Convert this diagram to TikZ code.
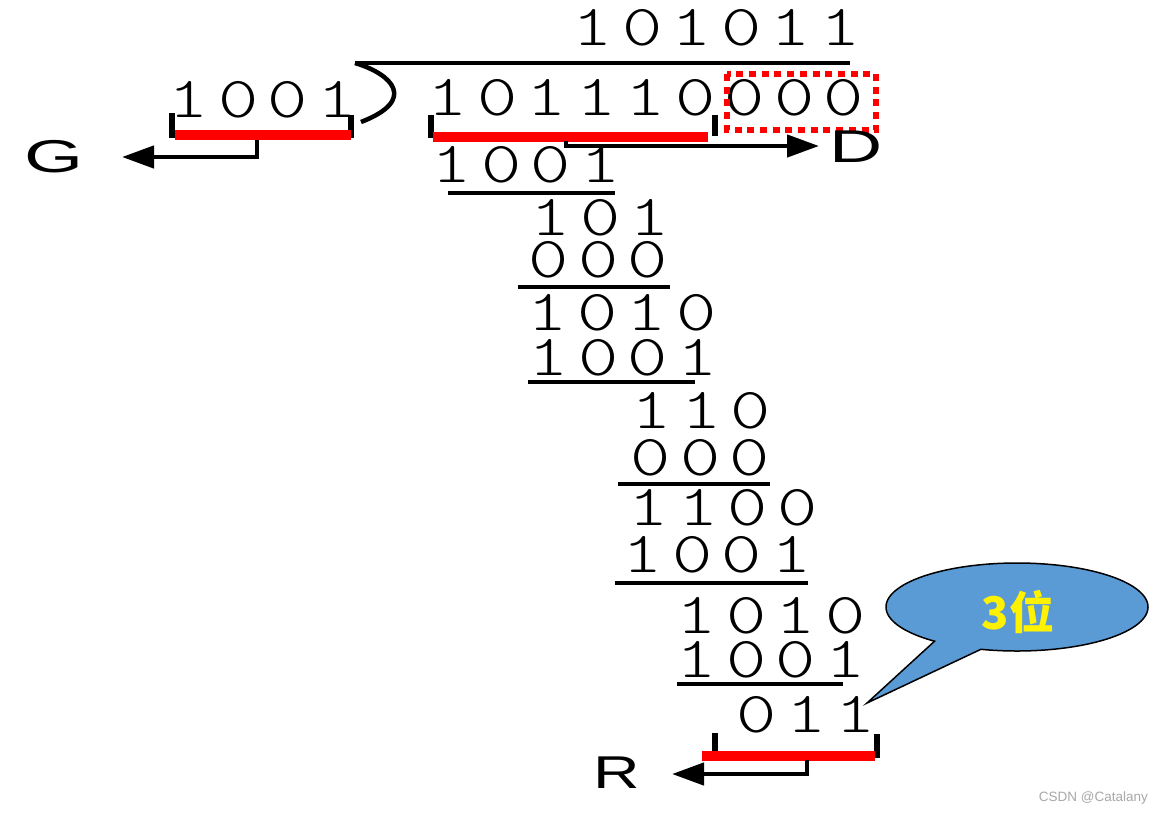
\documentclass[tikz,border=0pt]{standalone}
\usepackage{fontspec}
\usetikzlibrary{arrows.meta}
\newfontfamily\letfont{Liberation Sans}
\newfontfamily\cjk{Noto Sans CJK SC}
\newfontfamily\digfont{lmmonolt10-regular.otf}
\definecolor{calloutblue}{HTML}{5B9BD5}
\definecolor{wmgray}{HTML}{A8A8A8}
\tikzset{
  dig/.style={font=\digfont\fontsize{58}{58}\selectfont, inner sep=0pt, anchor=base},
  letter/.style={font=\letfont\fontsize{46}{46}\selectfont, inner sep=0pt, anchor=base},
  rule/.style={line width=4pt},
  tick/.style={line width=6pt},
  redbar/.style={line width=10pt, red},
  feed/.style={line width=4.5pt, -{Triangle[length=32pt,width=22pt]}},
}
\newcommand\digrow[4]{%
  \foreach \d [count=\i] in {#4} {\node[dig] (#1\i) at ({#2+49.5*(\i-1)},#3) {\scalebox{1.32}[1]{\d}};}}
\begin{document}
\begin{tikzpicture}[x=1pt,y=-1pt]
\useasboundingbox[fill=white] (0,0) rectangle (1162,812);
% quotient and division sign
\digrow{q}{593}{45}{1,0,1,0,1,1}
\coordinate (barL) at (355,63);
\coordinate (barR) at (850,63);
\coordinate (hookE) at (361,122);
\draw[line width=3.5pt] (barR) -- (barL);
\draw[line width=4.5pt] (barL) .. controls (392,74) and (418,100) .. (hookE);
% divisor
\digrow{g}{189}{117}{1,0,0,1}
% dividend
\digrow{m}{448}{115}{1,0,1,1,1,0,0,0,0}
% steps
\digrow{ra}{452}{182}{1,0,0,1}
\draw[rule] (448,193) -- (615,193);
\digrow{rb}{551}{235}{1,0,1}
\digrow{rc}{549}{277}{0,0,0}
\draw[rule] (518,287) -- (670,287);
\digrow{rd}{548}{330}{1,0,1,0}
\digrow{re}{549}{375}{1,0,0,1}
\draw[rule] (528,382) -- (695,382);
\digrow{rf}{652}{428}{1,1,0}
\digrow{rg}{651}{475}{0,0,0}
\draw[rule] (618,484) -- (770,484);
\digrow{rh}{649}{525}{1,1,0,0}
\digrow{ri}{643}{572}{1,0,0,1}
\draw[rule] (615,583) -- (808,583);
\digrow{rj}{697}{633}{1,0,1,0}
\digrow{rk}{697}{677}{1,0,0,1}
\draw[rule] (677,684) -- (843,684);
\digrow{rl}{757}{732}{0,1,1}
% dotted box round the appended zeros
\draw[red, line width=5.5pt, dash pattern=on 7pt off 5.7pt] (727,74) rectangle (876,130);
% letters
\node[letter] (G) at (54,172) {\scalebox{1.65}[1]{G}};
\node[letter] (D) at (856,162) {\scalebox{1.6}[1]{D}};
\node[letter] (R) at (617,788) {\scalebox{1.4}[1]{R}};
% G bracket
\draw[tick] (171.5,113) -- (171.5,138);
\draw[tick] (351,115) -- (351,138);
\coordinate (gbarL) at (175,135);
\coordinate (gbarR) at (351,135);
\draw[redbar] (gbarL) -- (gbarR);
\coordinate (gfoot) at (257,140);
\coordinate (gtip) at (122,157);
\draw[feed] (gfoot) |- (gtip);
% D bracket
\draw[tick] (430.5,115) -- (430.5,138);
\draw[tick] (715,115) -- (715,136);
\coordinate (dbarL) at (433,137);
\coordinate (dbarR) at (708,137);
\draw[redbar] (dbarL) -- (dbarR);
\coordinate (dfoot) at (566,141);
\coordinate (dtip) at (819,146);
\draw[feed] (dfoot) |- (dtip);
% R bracket
\draw[tick] (715,733) -- (715,753);
\draw[tick] (876.5,734) -- (876.5,758);
\coordinate (rbarL) at (702,756);
\coordinate (rbarR) at (875,756);
\draw[redbar] (rbarL) -- (rbarR);
\coordinate (rfoot) at (807,760);
\coordinate (rtip) at (672,774);
\draw[feed] (rfoot) |- (rtip);
% callout
\draw[fill=calloutblue, line width=1.5pt, line join=miter]
  (867,703) -- plot[domain=129:466, samples=160] ({1017+131*cos(\x)},{607+44*sin(\x)}) -- cycle;
\node[inner sep=0pt, text=yellow, font=\cjk\bfseries\fontsize{45}{45}\selectfont] (note) at (1018,612) {3位};
% watermark
\node[inner sep=0pt, anchor=base east, text=wmgray, font=\letfont\fontsize{13.5}{13.5}\selectfont] (wm) at (1148,801) {CSDN @Catalany};
\end{tikzpicture}
\end{document}
